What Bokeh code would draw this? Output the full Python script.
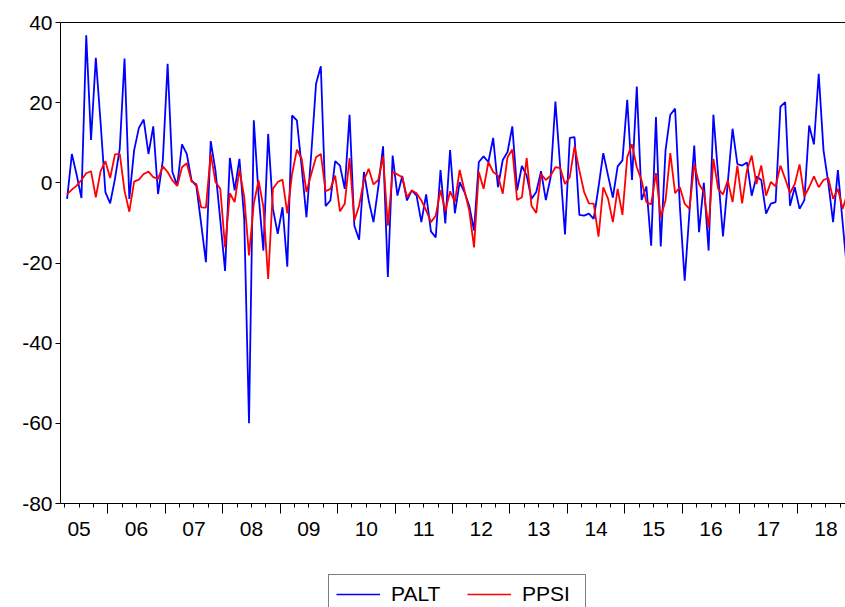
import pandas as pd
from bokeh.plotting import figure
from bokeh.layouts import column
from bokeh.models import FixedTicker, LinearAxis, Legend, LegendItem, Range1d
from bokeh.embed import file_html
from bokeh.resources import INLINE

# ---------------- data (monthly, starting April 2005) ----------------
start_month = "2005-04"

palt = [
    -4.0, 7.2, 2.0, -3.8, 36.8, 10.7, 31.2, 15.0, -2.3,            # 2005 Apr-Dec
    -5.1, 1.0, 8.5, 31.0, -4.0, 8.1, 13.7, 15.8, 7.2, 14.1, -2.8, 5.6,   # 2006
    29.7, 2.7, -0.7, 9.6, 7.2, 0.6, -0.8, -10.2, -19.8, 10.4, 3.0, -9.3,  # 2007
    -22.0, 6.2, -1.9, 6.0, -9.0, -60.0, 15.6, -3.0, -16.9, 12.2, -6.5, -12.7,  # 2008
    -6.1, -20.9, 16.8, 15.6, 3.9, -8.6, 7.2, 24.7, 29.1, -5.8, -4.4, 5.4,  # 2009
    4.3, -1.5, 17.0, -10.7, -14.2, 2.7, -4.4, -9.8, -1.1, 9.1, -23.5, 6.8,  # 2010
    -3.2, 1.7, -4.4, -1.9, -3.2, -9.8, -2.9, -12.1, -13.6, 3.2, -10.1, 8.2,  # 2011
    -7.6, 0.2, -2.3, -5.7, -11.9, 5.2, 6.6, 5.2, 11.2, -1.1, 5.7, 7.7,  # 2012
    14.1, -1.9, 4.2, 1.8, -4.0, -2.3, 2.9, -4.3, 1.4, 20.3, 3.9, -12.9,  # 2013
    11.2, 11.4, -8.0, -8.2, -7.7, -9.0, -1.1, 7.4, 1.8, -3.7, 4.1, 5.6,  # 2014
    20.7, 0.7, 24.0, -4.3, -0.9, -15.7, 16.4, -15.9, 8.1, 17.0, 18.5, -6.0,  # 2015
    -24.4, -7.2, 9.3, -12.3, 0.0, -16.9, 17.0, 1.8, -13.4, 0.0, 13.5, 4.7,  # 2016
    4.3, 5.1, -3.2, 1.6, 0.7, -7.7, -5.2, -4.8, 19.0, 20.1, -5.7, -1.1,  # 2017
    -6.5, -4.3, 14.3, 9.6, 27.2, 8.1, 0.0, -9.8, 3.2, -10.0, -23.0,      # 2018 Jan-Nov
]

ppsi = [
    -2.8, -1.7, -0.7, 0.7, 2.4, 2.9, -3.6, 2.9, 5.4,
    1.2, 7.1, 7.2, -2.0, -7.2, 0.3, 0.8, 2.2, 2.8, 1.4, 1.0, 4.1,
    2.7, 0.6, -0.8, 3.9, 4.9, 0.3, -0.3, -6.1, -6.2, 7.2, 0.2, -1.5,
    -16.1, -2.6, -4.8, 3.3, -3.6, -18.1, -5.2, 0.6, -6.0, -24.0, -1.5, 0.2,
    0.8, -7.6, 2.2, 8.3, 6.0, -2.3, 2.2, 6.4, 7.2, -2.1, -1.5, 1.8,
    -7.1, -5.2, 6.2, -9.4, -5.7, 0.6, 3.5, -0.4, 0.7, 6.6, -10.7, 2.7,
    2.1, 1.4, -3.6, -1.9, -2.6, -4.4, -6.9, -9.8, -8.2, -1.8, -7.1, -2.1,
    -4.8, 3.2, -1.9, -6.9, -16.1, 2.7, -1.5, 5.2, 2.7, 1.8, -2.7, 6.4,
    8.3, -4.3, -3.6, 6.2, -5.7, -7.5, 2.2, 0.7, 1.8, 3.9, 3.7, -0.3,
    1.4, 9.1, 3.1, -2.3, -5.1, -5.2, -13.4, -1.1, -4.0, -9.8, -1.5, -8.0,
    6.4, 9.6, 3.9, 0.6, -4.8, -5.4, 2.4, -8.6, -4.4, 7.4, -2.6, -1.1,
    -5.2, -6.5, 4.7, -0.3, -2.3, -11.2, 6.0, -1.5, -2.9, 0.6, -4.8, 4.3,
    -5.1, 3.1, 6.8, -0.3, 4.3, -3.2, 0.2, -0.9, 4.3, 1.0, -2.6, -0.3,
    4.6, -3.4, -1.1, 1.6, -1.1, 0.7, 1.2, -4.0, -1.5, -6.5, -2.5,
]

year_boundaries = list(range(2006, 2019))
label_years = list(range(2005, 2019))
year_labels = ["05", "06", "07", "08", "09", "10", "11", "12", "13", "14", "15", "16", "17", "18"]
y_ticks = [-80, -60, -40, -20, 0, 20, 40]
y_labels = ["-80", "-60", "-40", "-20", "0", "20", "40"]

# ---------------- positions ----------------
dates = pd.date_range(start_month, periods=len(palt), freq="MS")
x = list(dates.year + (dates.month - 0.5) / 12.0)

FONT = "Liberation Sans"
FS = "21px"
W = 845

p = figure(width=W, height=566, output_backend="svg", toolbar_location=None,
           x_range=Range1d(2005.177, 2018.841), y_range=Range1d(-80, 40),
           min_border_left=60, min_border_right=0, min_border_top=22,
           min_border_bottom=63)
p.background_fill_color = "white"
p.border_fill_color = "white"
p.outline_line_color = None
p.xgrid.visible = False
p.ygrid.visible = False

# series
p.line(x, palt, line_color="#0000FF", line_width=1.8)
p.line(x, ppsi, line_color="#FF0000", line_width=1.8)

# y axis
ya = p.yaxis[0]
ya.ticker = FixedTicker(ticks=y_ticks)
ya.major_label_overrides = dict(zip(y_ticks, y_labels))
ya.major_tick_out = 5
ya.major_tick_in = 0
ya.minor_tick_line_color = None
ya.major_label_standoff = 3
ya.major_label_text_font = FONT
ya.major_label_text_font_size = FS
ya.major_label_text_color = "black"
ya.axis_line_color = "black"
ya.major_tick_line_color = "black"

# x axis: ticks only (year boundaries long, quarters short)
quarters = [yr + q / 4.0 for yr in range(2005, 2019) for q in range(4)]
xa = p.xaxis[0]
xa.ticker = FixedTicker(ticks=year_boundaries, minor_ticks=quarters)
xa.major_tick_out = 10
xa.major_tick_in = 0
xa.minor_tick_out = 4
xa.minor_tick_in = 0
xa.axis_line_color = "black"
xa.major_tick_line_color = "black"
xa.minor_tick_line_color = "black"
xa.major_label_overrides = {t: "" for t in year_boundaries}
xa.major_label_text_font_size = "1px"
xa.major_label_standoff = 0

# x axis: year labels centred in each year
mid = [yr + 0.5 for yr in label_years]
lab_axis = LinearAxis(ticker=FixedTicker(ticks=mid, minor_ticks=[]),
                      major_label_overrides=dict(zip(mid, year_labels)),
                      axis_line_color=None, major_tick_line_color=None,
                      minor_tick_line_color=None, major_tick_out=0, major_tick_in=0,
                      minor_tick_out=0, minor_tick_in=0, major_label_standoff=8,
                      major_label_text_font=FONT, major_label_text_font_size=FS,
                      major_label_text_color="black")
p.add_layout(lab_axis, "below")

# top frame line
top_axis = LinearAxis(ticker=FixedTicker(ticks=[]), axis_line_color="black",
                      major_tick_out=0, major_tick_in=0, minor_tick_out=0,
                      minor_tick_in=0, major_label_standoff=0,
                      major_label_text_font_size="1px")
p.add_layout(top_axis, "above")

# ---------------- legend strip (box runs past the bottom edge) ----------------
p2 = figure(width=W, height=41, output_backend="svg", toolbar_location=None,
            x_range=Range1d(0, 1), y_range=Range1d(0, 1),
            x_axis_location=None, y_axis_location=None,
            min_border_left=0, min_border_right=0, min_border_top=0, min_border_bottom=0)
p2.outline_line_color = None
p2.xgrid.visible = False
p2.ygrid.visible = False
p2.background_fill_color = "white"
p2.border_fill_color = "white"

# legend keys: same series, thin lines (they fall outside this strip's ranges)
l1 = p2.line(x, palt, line_color="#0000FF", line_width=1.5)
l2 = p2.line(x, ppsi, line_color="#FF0000", line_width=1.5)
legend = Legend(items=[LegendItem(label="PALT", renderers=[l1]),
                       LegendItem(label="PPSI", renderers=[l2])],
                location=(268, -7), orientation="horizontal",
                glyph_width=44, glyph_height=20, label_standoff=11, spacing=20,
                label_width=56, padding=7, margin=0,
                label_text_font=FONT, label_text_font_size=FS, label_text_color="black",
                border_line_color="black", border_line_width=1,
                background_fill_color="white", background_fill_alpha=1.0)
p2.add_layout(legend, "center")

layout = column(p, p2, spacing=0)
open("out.html", "w").write(file_html(layout, INLINE))
